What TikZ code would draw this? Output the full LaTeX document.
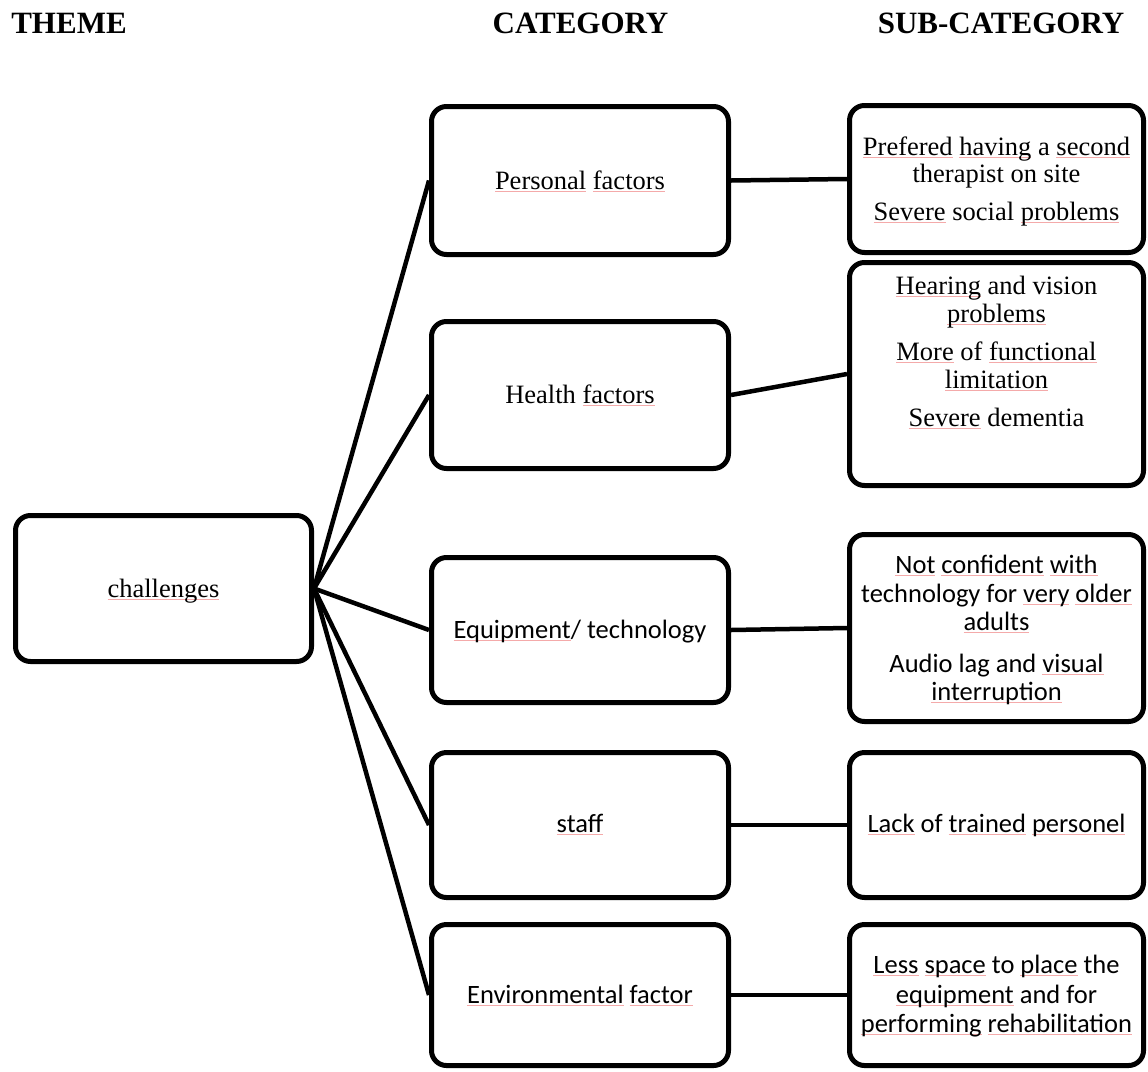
\documentclass[tikz,border=0pt]{standalone}
\usepackage{fontspec}
\setmainfont{Liberation Serif}
\newfontfamily\calibri{Carlito}
\definecolor{splc}{RGB}{244,170,170}
\newsavebox\splbox
\newcommand\spl[1]{\sbox\splbox{#1}\rlap{\textcolor{splc}{\rule[-2.5pt]{\wd\splbox}{0.9pt}}}\usebox\splbox}
\tikzset{
  box/.style={draw, line width=5pt, rounded corners=15pt, inner sep=0pt},
  catbox/.style={box, minimum width=297pt},
  subbox/.style={box, minimum width=294pt},
  conn/.style={line width=4.5pt},
  tm/.style={font=\fontsize{26.5}{27}\selectfont, anchor=base, inner sep=0pt},
  cb/.style={font=\calibri\fontsize{26.5}{28}\selectfont, anchor=base, inner sep=0pt},
  hd/.style={font=\bfseries\fontsize{31}{31}\selectfont, anchor=base, inner sep=0pt},
}
\begin{document}
\begin{tikzpicture}[x=1pt,y=-1pt]
\useasboundingbox (0,0) rectangle (1148,1071);
% headings
\node[hd] (h1) at (69,33) {THEME};
\node[hd] (h2) at (580.5,33) {CATEGORY};
\node[hd] (h3) at (1001,33) {SUB-CATEGORY};
% theme box
\node[box, minimum width=296pt, minimum height=146pt] (ch) at (163.5,588.5) {};
% category boxes
\node[catbox, minimum height=148pt] (c1) at (580,180.5) {};
\node[catbox, minimum height=147pt] (c2) at (580,395) {};
\node[catbox, minimum height=145pt] (c3) at (580,630) {};
\node[catbox, minimum height=145pt] (c4) at (580,825) {};
\node[catbox, minimum height=141pt] (c5) at (580,995) {};
% sub-category boxes
\node[subbox, minimum height=147pt] (s1) at (996.5,179) {};
\node[subbox, minimum height=223pt] (s2) at (996.5,374) {};
\node[subbox, minimum height=187pt] (s3) at (996.5,628) {};
\node[subbox, minimum height=145pt] (s4) at (996.5,825) {};
\node[subbox, minimum height=141pt] (s5) at (996.5,995) {};
% connectors
\foreach \c in {c1,c2,c3,c4,c5} \draw[conn] (ch.east) -- (\c.west);
\draw[conn] (c1.east) -- (s1.west);
\draw[conn] (c2.east) -- (s2.west);
\draw[conn] (c3.east) -- (s3.west);
\draw[conn] (c4.east) -- (s4.west);
\draw[conn] (c5.east) -- (s5.west);
% texts
\node[tm] (tch) at (163.5,597) {\spl{challenges}};
\node[tm] (tc1) at (580,189) {\spl{Personal} \spl{factors}};
\node[tm] (tc2) at (580,403) {Health \spl{factors}};
\node[cb] (tc3) at (580,638) {\spl{Equipment}/ technology};
\node[cb] (tc4) at (580,832) {\spl{staff}};
\node[cb] (tc5) at (580,1003) {\spl{Environmental} \spl{factor}};
% sub texts
\node[tm] (ts1a) at (996.5,155) {\spl{Prefered} \spl{having} a \spl{second}};
\node[tm] (ts1b) at (996.5,182) {therapist on site};
\node[tm] (ts1c) at (996.5,220) {\spl{Severe} social \spl{problems}};
\node[tm] (ts2a) at (996.5,294) {\spl{Hearing} and vision};
\node[tm] (ts2b) at (996.5,322) {\spl{problems}};
\node[tm] (ts2c) at (996.5,360) {\spl{More} of \spl{functional}};
\node[tm] (ts2d) at (996.5,388) {\spl{limitation}};
\node[tm] (ts2e) at (996.5,426) {\spl{Severe} dementia};
\node[cb] (ts3a) at (996.5,573) {\spl{Not} \spl{confident} \spl{with}};
\node[cb] (ts3b) at (996.5,602) {technology for \spl{very} \spl{older}};
\node[cb] (ts3c) at (996.5,630) {\spl{adults}};
\node[cb] (ts3d) at (996.5,672) {Audio lag and \spl{visual}};
\node[cb] (ts3e) at (996.5,700) {\spl{interruption}};
\node[cb] (ts4) at (996.5,832) {\spl{Lack} of \spl{trained} \spl{personel}};
\node[cb] (ts5a) at (996.5,973) {\spl{Less} \spl{space} to \spl{place} the};
\node[cb] (ts5b) at (996.5,1003) {\spl{equipment} and for};
\node[cb] (ts5c) at (996.5,1032) {\spl{performing} \spl{rehabilitation}};
\end{tikzpicture}
\end{document}
